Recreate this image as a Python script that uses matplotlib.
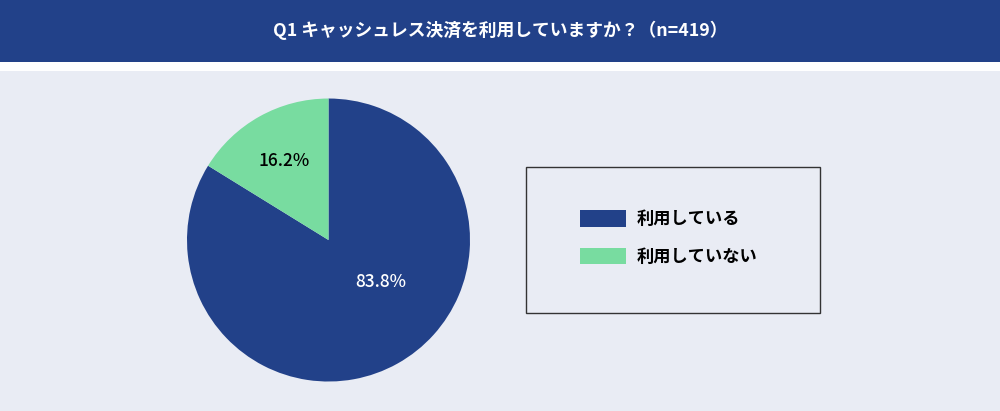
import matplotlib.pyplot as plt
import matplotlib.patches as mpatches
import numpy as np

plt.rcParams['font.family'] = ['Noto Sans CJK JP', 'DejaVu Sans']

title = 'Q1 キャッシュレス決済を利用していますか？（n=419）'
labels = ['利用している', '利用していない']
values = [83.8, 16.2]
colors = ['#224189', '#78DCA0']
label_colors = ['white', 'black']

navy = '#224189'
bg = '#E9ECF4'

fig = plt.figure(figsize=(10, 4.11), dpi=100)
fig.patch.set_facecolor(bg)

# header band + white strip
fig.patches.append(mpatches.Rectangle((0, 0.827), 1, 0.022, transform=fig.transFigure,
                                      facecolor='white', edgecolor='none', zorder=0))
fig.patches.append(mpatches.Rectangle((0, 0.849), 1, 0.151, transform=fig.transFigure,
                                      facecolor=navy, edgecolor='none', zorder=0))
fig.text(0.5, 0.925, title, color='white', fontsize=12.8, fontweight='bold',
         ha='center', va='center')

# pie
ax = fig.add_axes([0.3285 - 0.1415, 0.416 - 0.3443, 0.283, 0.6886])
ax.set_facecolor('none')
wedges, texts, autotexts = ax.pie(values, colors=colors, startangle=90, counterclock=False,
                                  autopct='%.1f%%', pctdistance=0.64, radius=1,
                                  wedgeprops=dict(linewidth=0))
for t, c in zip(autotexts, label_colors):
    t.set_color(c)
    t.set_fontsize(12.5)
    t.set_fontweight('medium')
# the big slice label sits lower right, not at mid-angle
ang = np.deg2rad(-38.7)
autotexts[0].set_position((0.47 * np.cos(ang), 0.47 * np.sin(ang)))
ax.set_xlim(-1, 1)
ax.set_ylim(-1, 1)
ax.set_aspect('equal')
ax.axis('off')

# legend frame
fig.patches.append(mpatches.Rectangle((526 / 1000, (411 - 313) / 411), 294 / 1000, 146 / 411,
                                      transform=fig.transFigure, facecolor='none',
                                      edgecolor='#333333', linewidth=1, zorder=1))
leg = fig.legend(wedges, labels, loc='upper left', bbox_to_anchor=(580 / 1000, (411 - 210) / 411),
                 frameon=False, fontsize=12.4, handlelength=2.65, handleheight=1.1,
                 handletextpad=0.62, labelspacing=1.13, borderpad=0, borderaxespad=0)
for t in leg.get_texts():
    t.set_fontweight('bold')

fig.savefig('out.png', dpi=100, facecolor=fig.get_facecolor())
